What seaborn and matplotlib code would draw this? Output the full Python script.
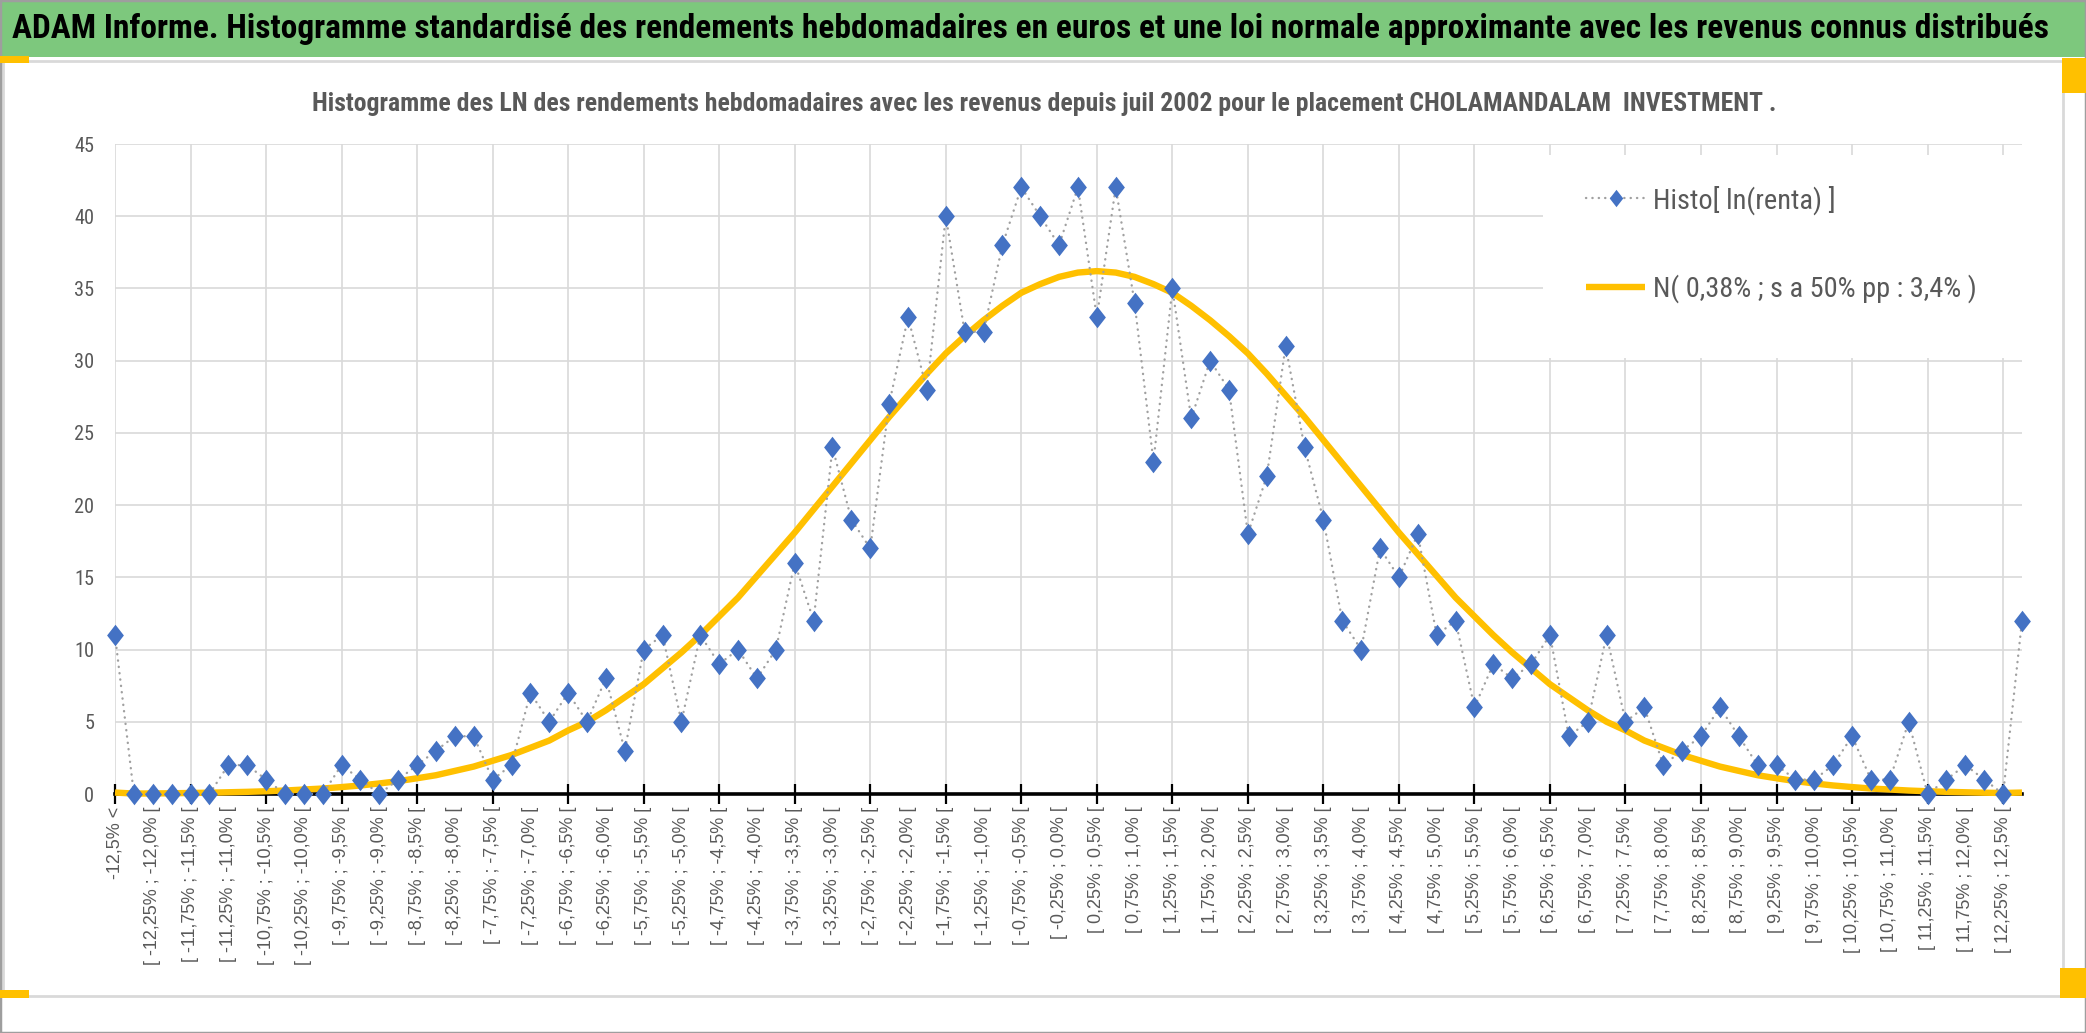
import matplotlib
matplotlib.use("Agg")
import numpy as np
import pandas as pd
import seaborn as sns
import matplotlib.pyplot as plt
from matplotlib.lines import Line2D
from matplotlib.patches import Rectangle
from matplotlib import font_manager as fm

# ---------------- data ----------------
bin_edges = ("-12,5 -12,25 -12,0 -11,75 -11,5 -11,25 -11,0 -10,75 -10,5 -10,25 -10,0 "
             "-9,75 -9,5 -9,25 -9,0 -8,75 -8,5 -8,25 -8,0 -7,75 -7,5 -7,25 -7,0 -6,75 -6,5 "
             "-6,25 -6,0 -5,75 -5,5 -5,25 -5,0 -4,75 -4,5 -4,25 -4,0 -3,75 -3,5 -3,25 -3,0 "
             "-2,75 -2,5 -2,25 -2,0 -1,75 -1,5 -1,25 -1,0 -0,75 -0,5 -0,25 0,0 0,25 0,5 0,75 "
             "1,0 1,25 1,5 1,75 2,0 2,25 2,5 2,75 3,0 3,25 3,5 3,75 4,0 4,25 4,5 4,75 5,0 5,25 "
             "5,5 5,75 6,0 6,25 6,5 6,75 7,0 7,25 7,5 7,75 8,0 8,25 8,5 8,75 9,0 9,25 9,5 9,75 "
             "10,0 10,25 10,5 10,75 11,0 11,25 11,5 11,75 12,0 12,25 12,5").split()

categories = (["-12,5% <"]
              + [f"[ {a}% ; {b}% [" for a, b in zip(bin_edges[:-1], bin_edges[1:])]
              + ["> 12,5%"])

histo = [11, 0, 0, 0, 0, 0, 2, 2, 1, 0, 0, 0, 2, 1, 0, 1, 2, 3, 4, 4,
         1, 2, 7, 5, 7, 5, 8, 3, 10, 11, 5, 11, 9, 10, 8, 10, 16, 12, 24, 19,
         17, 27, 33, 28, 40, 32, 32, 38, 42, 40, 38, 42, 33, 42, 34, 23, 35, 26, 30, 28,
         18, 22, 31, 24, 19, 12, 10, 17, 15, 18, 11, 12, 6, 9, 8, 9, 11, 4, 5, 11,
         5, 6, 2, 3, 4, 6, 4, 2, 2, 1, 1, 2, 4, 1, 1, 5, 0, 1, 2, 1,
         0, 12]

normal = [0.1, 0.03, 0.04, 0.05, 0.07, 0.09, 0.12, 0.15, 0.19, 0.24,
          0.31, 0.38, 0.48, 0.59, 0.73, 0.89, 1.09, 1.3, 1.6, 1.9,
          2.3, 2.7, 3.2, 3.7, 4.4, 5.0, 5.8, 6.7, 7.6, 8.7,
          9.8, 11.0, 12.3, 13.6, 15.1, 16.6, 18.1, 19.7, 21.3, 22.9,
          24.5, 26.1, 27.6, 29.1, 30.5, 31.7, 32.8, 33.8, 34.7, 35.3,
          35.8, 36.1, 36.2, 36.1, 35.8, 35.3, 34.7, 33.8, 32.8, 31.7,
          30.5, 29.1, 27.6, 26.1, 24.5, 22.9, 21.3, 19.7, 18.1, 16.6,
          15.1, 13.6, 12.3, 11.0, 9.8, 8.7, 7.6, 6.7, 5.8, 5.0,
          4.4, 3.7, 3.2, 2.7, 2.3, 1.9, 1.6, 1.3, 1.09, 0.89,
          0.73, 0.59, 0.48, 0.38, 0.31, 0.24, 0.19, 0.15, 0.12, 0.09,
          0.07, 0.1]

yticks = [0, 5, 10, 15, 20, 25, 30, 35, 40, 45]

title = ("ADAM Informe. Histogramme standardisé des rendements hebdomadaires en euros "
         "et une loi normale approximante avec les revenus connus distribués")
subtitle = ("Histogramme des LN des rendements hebdomadaires avec les revenus depuis juil 2002 "
            "pour le placement CHOLAMANDALAM  INVESTMENT .")
label_histo = "Histo[ ln(renta) ]"
label_norm = "N( 0,38% ; s a 50% pp : 3,4% )"

df = pd.DataFrame({"pos": np.arange(len(categories)), "category": categories,
                   "histo": histo, "normal": normal})

# ---------------- style ----------------
sns.set_theme(style="white")
names = {f.name for f in fm.fontManager.ttflist}
NARROW = next(n for n in ["Liberation Sans Narrow", "Roboto Condensed", "Open Sans Condensed",
                          "Liberation Sans", "DejaVu Sans"] if n in names)
REGULAR = "Liberation Sans" if "Liberation Sans" in names else "DejaVu Sans"
plt.rcParams["font.family"] = [NARROW, "DejaVu Sans"]

W, H = 2086, 1033
fig = plt.figure(figsize=(W / 100, H / 100), dpi=100)
renderer = fig.canvas.get_renderer()


def fit_size(txt, target_px, **kw):
    t = fig.text(0, 0, txt, fontsize=20, **kw)
    w = t.get_window_extent(renderer=renderer).width
    t.remove()
    return 20 * target_px / w


def fx(px):
    return px / W


def fy(py):
    return 1 - py / H


# --- frame decorations ---
fig.patches.append(Rectangle((0, fy(57)), 1, 57 / H, transform=fig.transFigure,
                             fc="#7DC87D", ec="none", zorder=0))
fig.patches.append(Rectangle((fx(3), fy(996)), fx(2063 - 3), (996 - 61) / H,
                             transform=fig.transFigure, fc="none", ec="#D9D9D9", lw=2, zorder=0.1))
fig.patches.append(Rectangle((0, 0), 1, 1, transform=fig.transFigure, fc="none",
                             ec="#9E9E9E", lw=2.5, zorder=0.2))
for (x0, y0, x1, y1) in [(0, 56, 29, 63), (2062, 58, 2086, 93), (0, 990, 29, 998), (2060, 968, 2086, 998)]:
    fig.patches.append(Rectangle((fx(x0), fy(y1)), fx(x1 - x0), (y1 - y0) / H,
                                 transform=fig.transFigure, fc="#FFC000", ec="none", zorder=0.3))

# --- titles ---
fig.text(fx(1031), fy(29), title, ha="center", va="center", color="black", fontweight="bold",
         fontsize=fit_size(title, 2030, fontweight="bold"))
fig.text(fx(1044), fy(104), subtitle, ha="center", va="center", color="#595959", fontweight="bold",
         fontsize=fit_size(subtitle, 1458, fontweight="bold"))

# --- axes ---
ax = fig.add_axes([fx(115), fy(794), fx(2022 - 115), (794 - 144) / H])
ax.set_facecolor("white")

diamond = [(0, 1), (0.78, 0), (0, -1), (-0.78, 0), (0, 1)]
dot_style = (0, (0.1, 2.6))

sns.lineplot(data=df, x="pos", y="normal", ax=ax, color="#FFC000", lw=4.6,
             zorder=3, clip_on=False, solid_capstyle="butt", solid_joinstyle="round")
sns.lineplot(data=df, x="pos", y="histo", ax=ax, color="#A0A0A0", lw=1.7,
             linestyle=dot_style, dash_capstyle="round",
             marker=diamond, markersize=15.5, markerfacecolor="#4472C4",
             markeredgecolor="#4472C4", markeredgewidth=0, zorder=4, clip_on=False)

ax.set_xlim(0, len(categories) - 1)
ax.set_ylim(0, 45)
ax.set_xlabel("")
ax.set_ylabel("")

ytick_fs = fit_size("45", 20)
ax.set_yticks(yticks)
ax.set_yticklabels([str(v) for v in yticks], fontsize=ytick_fs, color="#595959")
ax.tick_params(axis="y", length=0, pad=15)

major_pos = list(range(0, len(categories), 2))
xtick_fs = fit_size("[ -12,25% ; -12,0% [", 160, family=REGULAR)
ax.set_xticks(major_pos)
ax.set_xticklabels([categories[i] for i in major_pos], rotation=90, fontsize=xtick_fs,
                   color="#595959", family=REGULAR)
ax.set_xticks(list(range(0, len(categories), 4)), minor=True)
ax.xaxis.remove_overlapping_locs = False
ax.tick_params(axis="x", which="major", bottom=True, length=0, pad=9)
ax.tick_params(axis="x", which="minor", bottom=True, length=15, width=1.6,
               direction="inout", color="black")

ax.set_axisbelow(True)
ax.xaxis.grid(True, which="minor", color="#D9D9D9", lw=1.2)
ax.xaxis.grid(False, which="major")
ax.yaxis.grid(True, which="major", color="#D9D9D9", lw=1.2)

for s in ["left", "right", "top"]:
    ax.spines[s].set_visible(False)
ax.spines["bottom"].set_color("black")
ax.spines["bottom"].set_linewidth(2.6)
ax.spines["bottom"].set_zorder(2.5)

# legend background box
ax.add_patch(Rectangle((0.749, 0.671), 0.251, 0.312, transform=ax.transAxes,
                       fc="white", ec="none", zorder=1))

leg_fs_pt = fit_size(label_norm, 324)
leg_px = leg_fs_pt * 100 / 72
h_histo = Line2D([], [], color="#A0A0A0", lw=1.7, linestyle=dot_style, dash_capstyle="round",
                 marker=diamond, markersize=12.5, markerfacecolor="#4472C4",
                 markeredgecolor="#4472C4", markeredgewidth=0)
h_norm = Line2D([], [], color="#FFC000", lw=4.6, solid_capstyle="butt")
row_h = 1.17 * leg_px
top_px = 202 - row_h / 2
leg = ax.legend([h_histo, h_norm], [label_histo, label_norm], loc="upper left",
                bbox_to_anchor=((1586 - 115) / (2022 - 115), (794 - top_px) / (794 - 144)),
                frameon=False, fontsize=leg_fs_pt, borderpad=0, borderaxespad=0,
                handlelength=59 / leg_px, handletextpad=8 / leg_px,
                labelspacing=(93 - row_h) / leg_px, markerscale=1.0)
for t in leg.get_texts():
    t.set_color("#595959")
leg.set_zorder(6)

fig.savefig("out.png", dpi=100, facecolor="white")
